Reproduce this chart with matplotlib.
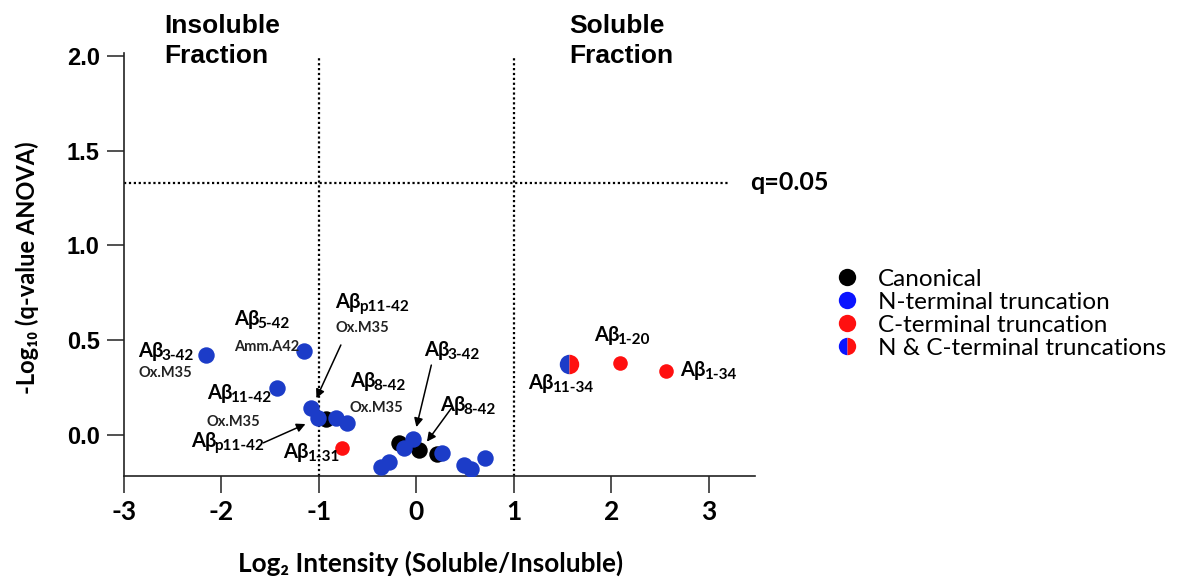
import matplotlib
matplotlib.use("Agg")
import matplotlib.pyplot as plt
from matplotlib.lines import Line2D

# ---------------- data ----------------
canonical_x = [-0.924, -0.177, 0.022, 0.209]
canonical_y = [0.084, -0.041, -0.079, -0.100]

nterm_x = [-2.157, -1.154, -1.433, -1.077, -1.010, -0.826, -0.707,
           -0.033, -0.123, 0.265, -0.359, -0.286, 0.488, 0.562, 0.704]
nterm_y = [0.422, 0.443, 0.248, 0.142, 0.090, 0.090, 0.063,
           -0.023, -0.070, -0.093, -0.167, -0.141, -0.158, -0.181, -0.123]

cterm_x = [-0.761, 2.085, 2.556]
cterm_y = [-0.067, 0.378, 0.339]

ncterm_x = [1.562]
ncterm_y = [0.374]

q_threshold = 1.33
fc_thresholds = [-1, 1]

x_ticks = [-3, -2, -1, 0, 1, 2, 3]
y_ticks = [0.0, 0.5, 1.0, 1.5, 2.0]
y_ticklabels = ["0.0", "0.5", "1.0", "1.5", "2.0"]

legend_labels = ["Canonical", "N-terminal truncation",
                 "C-terminal truncation", "N & C-terminal truncations"]

peptide_subs = ["3-42", "5-42", "11-42", "p11-42", "1-31", "p11-42",
                "8-42", "3-42", "8-42", "11-34", "1-20", "1-34"]
peptide_mods = ["Ox.M35", "Amm.A42", "Ox.M35", "", "", "Ox.M35",
                "Ox.M35", "", "", "", "", ""]

# ---------------- layout (label anchors, arrows) ----------------
label_pos = [(-2.853, 0.411), (-1.875, 0.580), (-2.150, 0.190),
             (-2.314, -0.063), (-1.365, -0.121), (-0.829, 0.670),
             (-0.685, 0.253), (0.078, 0.417), (0.246, 0.127),
             (1.147, 0.243), (1.821, 0.496), (2.706, 0.311)]
mod_y = [0.306, 0.443, 0.047, None, None, 0.543, 0.121,
         None, None, None, None, None]
arrows = [((-0.775, 0.475), (-1.026, 0.194)),
          ((-1.570, -0.041), (-1.138, 0.058)),
          ((0.153, 0.369), (0.0, 0.042)),
          ((0.358, 0.141), (0.108, -0.035))]

BLUE = "#1c3cc8"
RED = "#ff1010"
LEG_BLUE = "#0a14ff"
CALIBRI = ["Lato", "DejaVu Sans"]
ARIAL = ["Liberation Sans", "DejaVu Sans"]

plt.rcParams["font.family"] = CALIBRI

fig = plt.figure(figsize=(11.8, 5.77), dpi=100)
ax = fig.add_axes([124 / 1180, 101 / 577, 631 / 1180, 423 / 577])
ax.set_xlim(-3, 3.474)
ax.set_ylim(-0.216, 2.015)

for side in ("top", "right"):
    ax.spines[side].set_visible(False)
for side in ("left", "bottom"):
    ax.spines[side].set_linewidth(1.2)
    ax.spines[side].set_color("#222222")

ax.set_xticks(x_ticks)
ax.set_xticklabels([str(t) for t in x_ticks])
ax.set_yticks(y_ticks)
ax.set_yticklabels(y_ticklabels)
ax.tick_params(axis="both", length=12.5, width=1.1, color="#222222")
ax.tick_params(axis="x", pad=5)
ax.tick_params(axis="y", pad=5)
for lab in ax.get_xticklabels():
    lab.set_family(CALIBRI); lab.set_weight("bold"); lab.set_fontsize(19)
for lab in ax.get_yticklabels():
    lab.set_family(ARIAL); lab.set_weight("bold"); lab.set_fontsize(17)

# threshold lines
dot = (0, (1, 1.2))
for xv in fc_thresholds:
    ax.vlines(xv, -0.216, 1.99, colors="black", linestyles=dot, lw=1.6, zorder=1)
ax.hlines(q_threshold, -3, 3.206, colors="black", linestyles=dot, lw=1.6, zorder=1)
ax.text(3.426, q_threshold, "q=0.05", fontsize=18, fontweight="bold",
        va="center", ha="left", clip_on=False)

# points
ax.scatter(canonical_x, canonical_y, s=140, color="black", lw=0, zorder=3)
ax.scatter(nterm_x, nterm_y, s=140, color=BLUE, lw=0, zorder=4)
ax.scatter(cterm_x, cterm_y, s=110, color=RED, lw=0, zorder=4)
ax.plot(ncterm_x, ncterm_y, ls="", marker="o", markersize=14, fillstyle="left",
        markerfacecolor=BLUE, markerfacecoloralt=RED, markeredgewidth=0, zorder=4)

# peptide labels
for (lx, ly), sub, mod, my in zip(label_pos, peptide_subs, peptide_mods, mod_y):
    t = ax.text(lx, ly, "Aβ", fontsize=14.5, fontweight="bold", ha="left",
                va="baseline", zorder=5)
    ax.annotate(sub, xy=(1, 0), xycoords=t, xytext=(-1.5, 0.5),
                textcoords="offset points", fontsize=11, fontweight="bold",
                ha="left", va="baseline", zorder=5)
    if mod:
        ax.text(lx, my, mod, fontsize=10.5, fontweight="bold", color="#222222",
                ha="left", va="baseline", zorder=5)

for tail, head in arrows:
    ax.annotate("", xy=head, xytext=tail,
                arrowprops=dict(arrowstyle="-|>", color="black", lw=1.1,
                                mutation_scale=13, shrinkA=0, shrinkB=0),
                zorder=5)

# fraction titles
for xt, word in ((-2.588, "Insoluble"), (1.565, "Soluble")):
    ax.text(xt, 2.119, word, family=ARIAL, fontsize=19, fontweight="bold",
            ha="left", va="baseline", clip_on=False)
    ax.text(xt, 1.960, "Fraction", family=ARIAL, fontsize=19, fontweight="bold",
            ha="left", va="baseline", clip_on=False)

# axis labels
ax.set_xlabel("Log₂ Intensity (Soluble/Insoluble)", fontsize=18.8, fontweight="bold")
ax.xaxis.set_label_coords(0.4865, -0.2057)
ax.xaxis.label.set_va("center")
ax.set_ylabel("-Log₁₀ (q-value ANOVA)", fontsize=17, fontweight="bold")
ax.yaxis.set_label_coords(-0.1537, 0.4917)
ax.yaxis.label.set_va("center")

# legend
handles = [
    Line2D([], [], ls="", marker="o", markersize=12.5, markeredgewidth=0,
           markerfacecolor="black"),
    Line2D([], [], ls="", marker="o", markersize=12.5, markeredgewidth=0,
           markerfacecolor=LEG_BLUE),
    Line2D([], [], ls="", marker="o", markersize=12.5, markeredgewidth=0,
           markerfacecolor=RED),
    Line2D([], [], ls="", marker="o", markersize=12.5, markeredgewidth=0,
           fillstyle="left", markerfacecolor=LEG_BLUE, markerfacecoloralt=RED),
]
leg_fs = 17.5
fs_px = leg_fs * 100 / 72
hl = 17 / fs_px
fig.legend(handles, legend_labels, loc="upper left",
           bbox_to_anchor=((847 - 8.5) / 1180, 1 - 268.5 / 577), frameon=False,
           borderpad=0, borderaxespad=0, handlelength=hl,
           handletextpad=(878 - 855.5) / fs_px,
           labelspacing=0.085, prop={"family": CALIBRI, "size": leg_fs})

fig.savefig("out.png", dpi=100)
